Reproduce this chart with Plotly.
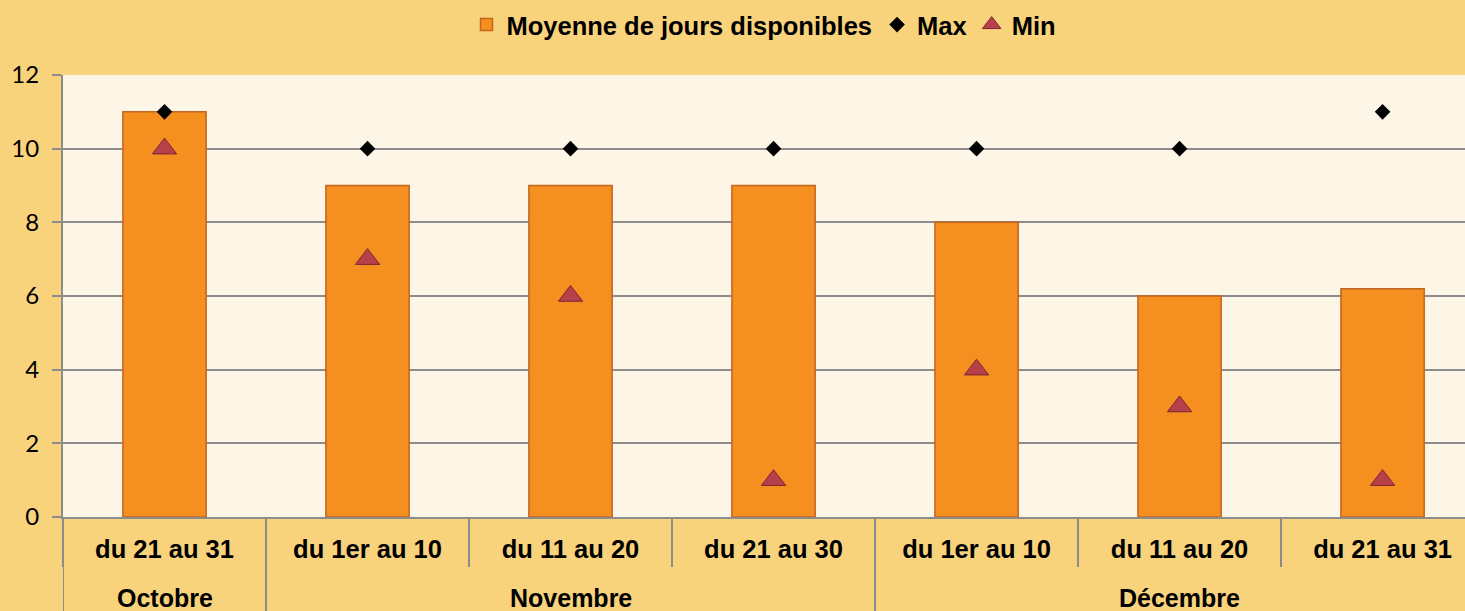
import plotly.graph_objects as go

months = ["Octobre", "Novembre", "Novembre", "Novembre", "Décembre", "Décembre", "Décembre"]
periods = ["du 21 au 31", "du 1er au 10", "du 11 au 20", "du 21 au 30",
           "du 1er au 10", "du 11 au 20", "du 21 au 31"]
moyenne = [11, 9, 9, 9, 8, 6, 6.2]
maxi = [11, 10, 10, 10, 10, 10, 11]
mini = [10, 7, 6, 1, 4, 3, 1]
y_ticks = [0, 2, 4, 6, 8, 10, 12]

idx = list(range(len(periods)))

# month groups (start, end index) derived from the months list
groups = []
for i, m in enumerate(months):
    if groups and groups[-1][0] == m:
        groups[-1][2] = i
    else:
        groups.append([m, i, i])

GRAY = "#8C8C8C"
FONT = "Liberation Sans, Arial, sans-serif"

fig = go.Figure()
fig.add_trace(go.Bar(
    x=idx, y=moyenne, name="Moyenne de jours disponibles",
    width=0.41,
    marker=dict(color="#F58F20", line=dict(color="#C2651E", width=1.5)),
))
fig.add_trace(go.Scatter(
    x=idx, y=maxi, name="Max", mode="markers",
    marker=dict(symbol="diamond", color="#000000", size=12),
))
fig.add_trace(go.Scatter(
    x=idx, y=mini, name="Min", mode="markers",
    marker=dict(symbol="triangle-up", color="#B8404B", size=21,
                line=dict(color="#7A2530", width=1)),
))

plot_h = 611 - 75 - 94
annotations = []
shapes = []
for m, s, e in groups:
    annotations.append(dict(
        x=(s + e) / 2, y=-81 / plot_h, xref="x", yref="paper",
        text=m, showarrow=False, yanchor="middle", xanchor="center",
        font=dict(size=25, family=FONT, weight="bold", color="#000000"),
    ))
    shapes.append(dict(
        type="line", xref="x", yref="paper", x0=s - 0.5, x1=s - 0.5,
        y0=0, y1=-94 / plot_h, line=dict(color=GRAY, width=2),
    ))

fig.update_layout(
    width=1465, height=611,
    margin=dict(l=63, r=0, t=75, b=94),
    paper_bgcolor="#F9D27C",
    plot_bgcolor="#FDF5E5",
    font=dict(family=FONT, color="#000000"),
    showlegend=True,
    legend=dict(orientation="h", x=0.5, xanchor="center", y=1 + 50 / plot_h, yanchor="middle",
                font=dict(size=25.5, family=FONT, weight="bold"),
                bgcolor="rgba(0,0,0,0)", itemwidth=30, traceorder="normal"),
    annotations=annotations,
    shapes=shapes,
)
fig.update_xaxes(
    range=[-0.5, len(periods) - 0.594],
    tickvals=idx, ticktext=periods,
    showline=True, linecolor=GRAY, linewidth=2,
    ticks="", ticklabelstandoff=8,
    minor=dict(tickvals=[i - 0.5 for i in idx] + [len(idx) - 0.5],
               ticks="outside", ticklen=48, tickcolor=GRAY, tickwidth=2, showgrid=False),
    tickfont=dict(size=25.5, family=FONT, weight="bold"),
    showgrid=False, zeroline=False,
)
fig.update_yaxes(
    range=[0, 12], tickvals=y_ticks,
    showgrid=True, gridcolor=GRAY, gridwidth=1.5,
    showline=True, linecolor=GRAY, linewidth=2,
    ticks="outside", ticklen=9, tickcolor=GRAY, tickwidth=1.5,
    ticklabelstandoff=8,
    tickfont=dict(size=24, family="Lato, Calibri, sans-serif"),
    zeroline=False,
)

fig.write_html("out.html", config={"displayModeBar": False},
               post_script="document.body.style.margin='0';document.body.style.overflow='hidden';")
